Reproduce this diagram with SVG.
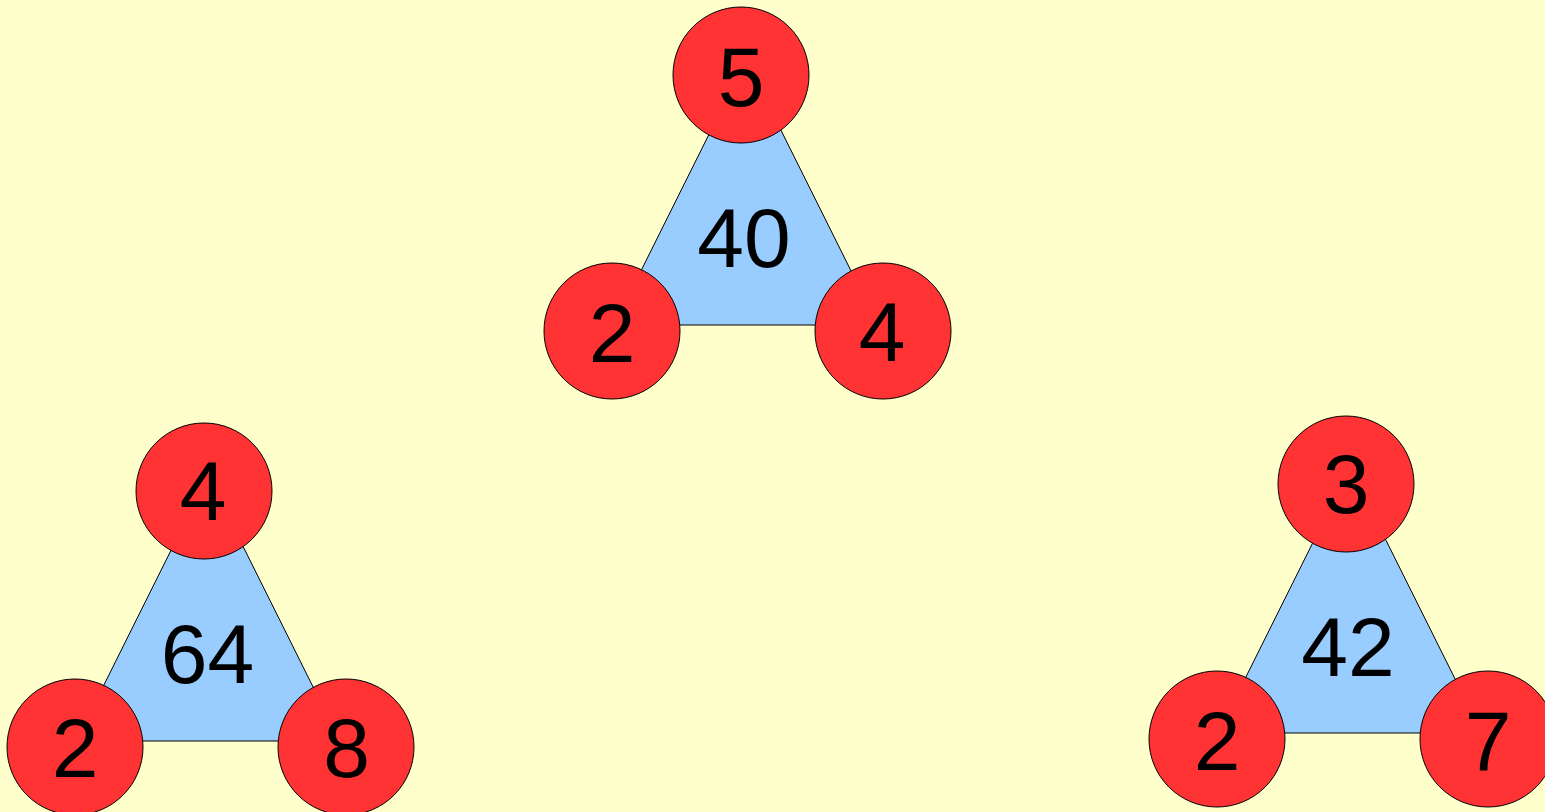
<svg xmlns="http://www.w3.org/2000/svg" width="1545" height="812" viewBox="0 0 1545 812">
  <style>
    .tri { fill: #99CCFF; stroke: #000; stroke-width: 1; }
    .dot { fill: #FF3333; stroke: #000; stroke-width: 1; }
    .num { font-family: "Liberation Sans", Arial, sans-serif; font-size: 84px; fill: #000; text-anchor: middle; }
  </style>
  <rect x="0" y="0" width="1545" height="812" fill="#FFFFCC"/>

  <!-- product triangle: 5 x 2 x 4 = 40 -->
  <g id="tri-40">
    <polygon class="tri" points="746,60 614,325 878,325"/>
    <text class="num" x="744" y="267">40</text>
  </g>
  <g id="tri-40-top"><circle class="dot" cx="741" cy="75" r="68"/><text class="num" x="741" y="106">5</text></g>
  <g id="tri-40-left"><circle class="dot" cx="612" cy="331" r="68"/><text class="num" x="612" y="362">2</text></g>
  <g id="tri-40-right"><circle class="dot" cx="883" cy="331" r="68"/><text class="num" x="882" y="361">4</text></g>

  <!-- product triangle: 4 x 2 x 8 = 64 -->
  <g id="tri-64">
    <polygon class="tri" points="208,476 76,741 340,741"/>
    <text class="num" x="207.5" y="683">64</text>
  </g>
  <g id="tri-64-top"><circle class="dot" cx="204" cy="491" r="68"/><text class="num" x="203" y="520">4</text></g>
  <g id="tri-64-left"><circle class="dot" cx="75" cy="747" r="68"/><text class="num" x="75" y="777">2</text></g>
  <g id="tri-64-right"><circle class="dot" cx="346" cy="747" r="68"/><text class="num" x="346.5" y="777">8</text></g>

  <!-- product triangle: 3 x 2 x 7 = 42 -->
  <g id="tri-42">
    <polygon class="tri" points="1350,468 1218,733 1482,733"/>
    <text class="num" x="1348" y="676">42</text>
  </g>
  <g id="tri-42-top"><circle class="dot" cx="1346" cy="484" r="68"/><text class="num" x="1346" y="513">3</text></g>
  <g id="tri-42-left"><circle class="dot" cx="1217" cy="739" r="68"/><text class="num" x="1217" y="770">2</text></g>
  <g id="tri-42-right"><circle class="dot" cx="1488" cy="739" r="68"/><text class="num" x="1488" y="770">7</text></g>

  <!-- the triangles are the joins between their corner values -->
  <g id="connectors"></g>
</svg>
